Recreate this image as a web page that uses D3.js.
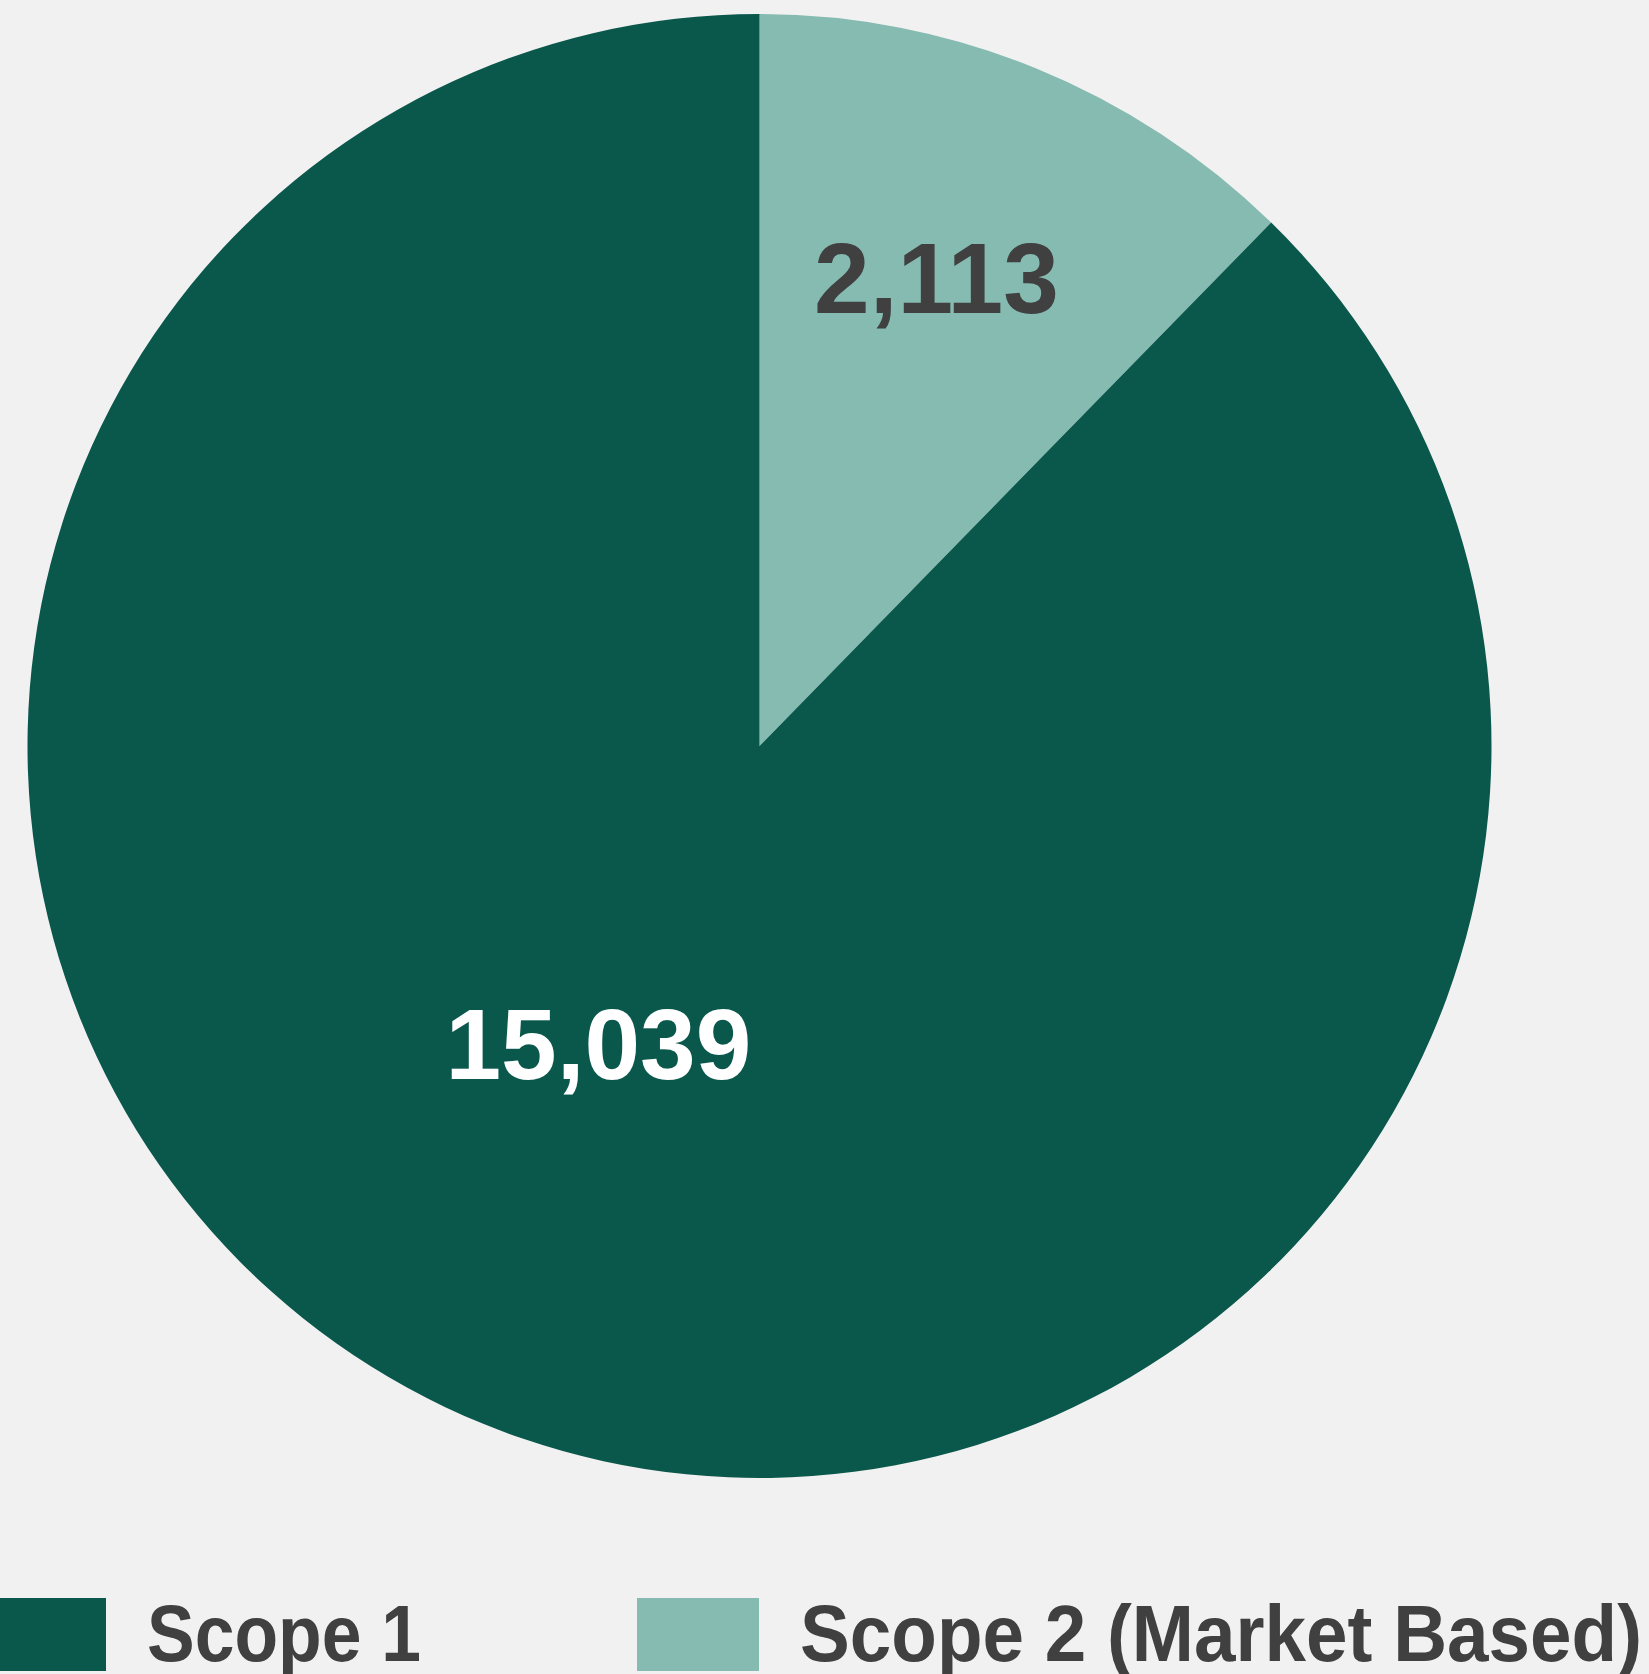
<!DOCTYPE html>
<html>
<head>
<meta charset="utf-8">
<script src="https://cdn.jsdelivr.net/npm/d3@7"></script>
<style>
  html, body { margin: 0; padding: 0; background: #f1f1f1; }
  svg { display: block; }
</style>
</head>
<body>
<svg id="chart" width="1649" height="1674"></svg>
<script>
// ---- data ----
const categories = ["Scope 1", "Scope 2 (Market Based)"];
const values = [15039, 2113];
const valueLabels = ["15,039", "2,113"];
const colors = ["#0a574b", "#85bbb1"];
const labelColors = ["#ffffff", "#404040"];

// ---- layout ----
const W = 1649, H = 1674;
const cx = 759.5, cy = 746, R = 732;
const startOffset = 0; // radians
const fmt = d3.format(",");

const svg = d3.select("#chart");
svg.append("rect").attr("width", W).attr("height", H).attr("fill", "#f1f1f1");

const g = svg.append("g").attr("transform", `translate(${cx},${cy})`);

// draw Scope 2 first (clockwise from top), then Scope 1
const order = [1, 0];
const pie = d3.pie()
  .sort(null)
  .value(i => values[i])
  .startAngle(startOffset)
  .endAngle(startOffset + 2 * Math.PI);
const arcs = pie(order);
const arc = d3.arc().innerRadius(0).outerRadius(R);

g.selectAll("path.slice")
  .data(arcs)
  .join("path")
  .attr("class", "slice")
  .attr("d", arc)
  .attr("fill", d => colors[d.data]);

// label placement (per-slice radius and angle nudge)
const labelRadius = [338, 501];
const labelNudge = [6.3 * Math.PI / 180, -1.5 * Math.PI / 180];
g.selectAll("text.val")
  .data(arcs)
  .join("text")
  .attr("class", "val")
  .attr("text-anchor", "middle")
  .attr("font-family", "'Liberation Sans', Arial, Helvetica, sans-serif")
  .attr("font-weight", "bold")
  .attr("font-size", 100)
  .attr("fill", d => labelColors[d.data])
  .attr("x", d => {
    const a = (d.startAngle + d.endAngle) / 2 + labelNudge[d.data];
    return labelRadius[d.data] * Math.sin(a);
  })
  .attr("y", d => {
    const a = (d.startAngle + d.endAngle) / 2 + labelNudge[d.data];
    return -labelRadius[d.data] * Math.cos(a) + 36;
  })
  .text(d => fmt(values[d.data]));

// ---- legend ----
const legX = d3.scalePoint().domain(categories).range([-16, 637]);
const legTextLen = [274, 842];
const leg = svg.selectAll("g.leg")
  .data(categories)
  .join("g")
  .attr("class", "leg")
  .attr("transform", d => `translate(${legX(d)},1598)`);
leg.append("rect")
  .attr("width", 122)
  .attr("height", 73)
  .attr("fill", (d, i) => colors[i]);
leg.append("text")
  .attr("x", 163)
  .attr("y", 63)
  .attr("font-family", "'Liberation Sans', Arial, Helvetica, sans-serif")
  .attr("font-weight", "bold")
  .attr("font-size", 79)
  .attr("fill", "#404040")
  .attr("textLength", (d, i) => legTextLen[i])
  .attr("lengthAdjust", "spacingAndGlyphs")
  .text(d => d);
</script>
</body>
</html>
